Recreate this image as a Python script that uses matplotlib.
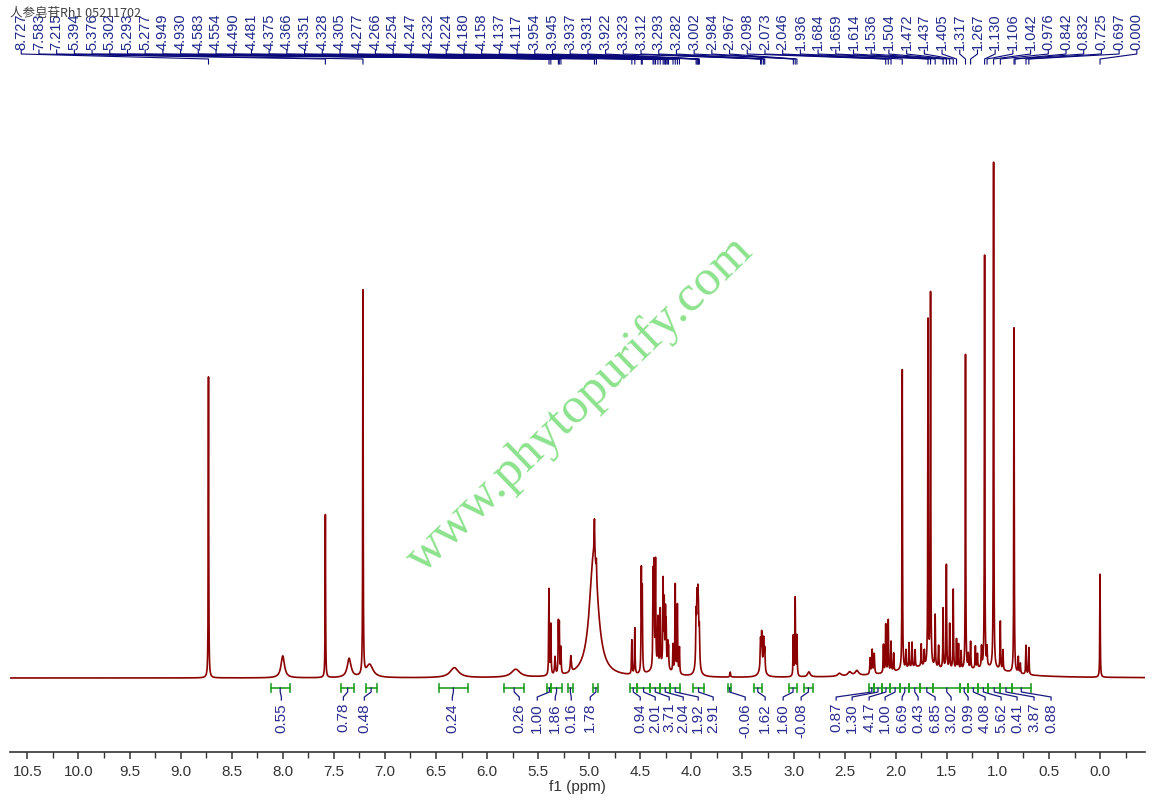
import numpy as np
import matplotlib
matplotlib.use('Agg')
import matplotlib.pyplot as plt

plt.rcParams['font.family'] = ['Liberation Sans', 'DejaVu Sans']

# sample name shown top-left
sample_title = "人参皂苷Rh1 05211702"

# peak list (ppm), height (arbitrary units ~ pixels), half width (ppm)
peak_ppm = [8.727, 7.583, 7.215, 8.00, 7.35, 7.15, 6.32, 5.72,
            5.394, 5.376, 5.335, 5.302, 5.293, 5.277, 5.18,
            4.955, 4.949, 4.930,
            4.583, 4.554, 4.490, 4.481,
            4.375, 4.366, 4.351, 4.328, 4.305, 4.277, 4.266, 4.254, 4.247,
            4.232, 4.224, 4.180, 4.158, 4.137, 4.117, 4.30,
            3.954, 3.945, 3.937, 3.931, 3.922, 3.94, 3.62,
            3.323, 3.312, 3.293, 3.282, 3.31,
            3.002, 2.984, 2.967, 2.85, 2.55, 2.45, 2.38,
            2.25, 2.23, 2.21, 2.12, 2.098, 2.073, 2.046, 2.02,
            1.936, 1.90, 1.87, 1.84, 1.81, 1.75, 1.72,
            1.684, 1.659, 1.614, 1.58,
            1.536, 1.504, 1.472, 1.437, 1.405, 1.385, 1.36,
            1.317, 1.29, 1.267, 1.22, 1.20,
            1.16, 1.130, 1.106, 1.042, 0.976, 0.95,
            0.842, 0.80, 0.78, 0.725, 0.697, 0.000,
            1.75, 1.10]
peak_height = [301, 163, 384, 22, 19, 13, 10, 8,
               86, 50, 18, 50, 48, 26, 16,
               125, 35, 18,
               34, 46, 100, 80,
               92, 98, 105, 48, 56, 84, 62, 52, 40,
               24, 21, 27, 88, 68, 26, 10,
               48, 55, 52, 42, 35, 12, 5,
               28, 32, 30, 22, 10,
               40, 78, 40, 5, 3, 4, 5,
               16, 24, 20, 28, 48, 52, 30, 18,
               300, 18, 25, 25, 17, 22, 15,
               345, 372, 52, 22,
               60, 104, 45, 80, 30, 25, 18,
               315, 14, 27, 22, 14,
               20, 412, 18, 506, 48, 20,
               345, 16, 10, 29, 27, 103,
               10, 8]
peak_width = [0.0025, 0.0025, 0.0025, 0.02, 0.022, 0.04, 0.05, 0.05,
              0.003, 0.003, 0.005, 0.003, 0.003, 0.003, 0.006,
              0.05, 0.003, 0.003,
              0.003, 0.003, 0.003, 0.003,
              0.003, 0.003, 0.003, 0.003, 0.003, 0.003, 0.003, 0.003, 0.003,
              0.003, 0.003, 0.003, 0.003, 0.003, 0.003, 0.1,
              0.004, 0.004, 0.004, 0.004, 0.004, 0.02, 0.004,
              0.004, 0.004, 0.004, 0.004, 0.025,
              0.003, 0.003, 0.003, 0.015, 0.02, 0.02, 0.02,
              0.004, 0.004, 0.004, 0.003, 0.003, 0.003, 0.003, 0.003,
              0.0025, 0.003, 0.003, 0.003, 0.003, 0.003, 0.003,
              0.0025, 0.0025, 0.003, 0.003,
              0.003, 0.003, 0.003, 0.003, 0.003, 0.003, 0.003,
              0.0025, 0.003, 0.003, 0.003, 0.003,
              0.003, 0.0025, 0.003, 0.0025, 0.003, 0.003,
              0.0025, 0.003, 0.003, 0.003, 0.003, 0.0025,
              0.3, 0.25]

# peak labels along the top
peak_labels = [8.727, 7.583, 7.215, 5.394, 5.376, 5.302, 5.293, 5.277, 4.949, 4.930,
               4.583, 4.554, 4.490, 4.481, 4.375, 4.366, 4.351, 4.328, 4.305, 4.277,
               4.266, 4.254, 4.247, 4.232, 4.224, 4.180, 4.158, 4.137, 4.117, 3.954,
               3.945, 3.937, 3.931, 3.922, 3.323, 3.312, 3.293, 3.282, 3.002, 2.984,
               2.967, 2.098, 2.073, 2.046, 1.936, 1.684, 1.659, 1.614, 1.536, 1.504,
               1.472, 1.437, 1.405, 1.317, 1.267, 1.130, 1.106, 1.042, 0.976, 0.842,
               0.832, 0.725, 0.697, 0.000]

# integration regions (ppm from, ppm to) and values
int_from = [8.12, 7.43, 7.19, 6.47, 5.83, 5.41, 5.37, 5.21, 4.96, 4.605, 4.533, 4.403, 4.305,
            4.207, 3.98, 3.64, 3.39, 3.04, 2.90, 2.257, 2.211, 2.136, 2.055, 1.957, 1.866,
            1.761, 1.631, 1.370, 1.289, 1.191, 1.093, 0.978, 0.864]
int_to = [7.93, 7.30, 7.08, 6.19, 5.64, 5.37, 5.27, 5.16, 4.91, 4.533, 4.403, 4.305, 4.207,
          4.11, 3.88, 3.61, 3.31, 2.97, 2.81, 2.211, 2.136, 2.055, 1.957, 1.866, 1.761,
          1.631, 1.370, 1.289, 1.191, 1.093, 0.978, 0.864, 0.678]
int_values = ["0.55", "0.78", "0.48", "0.24", "0.26", "1.00", "1.86", "0.16", "1.78", "0.94",
              "2.01", "3.71", "2.04", "1.92", "2.91", "-0.06", "1.62", "1.60", "-0.08", "0.87",
              "1.30", "4.17", "1.00", "6.69", "0.43", "6.85", "3.02", "0.99", "4.08", "5.62",
              "0.41", "3.87", "0.88"]

# layout: where the integral numbers sit (pixel x in the original picture)
int_label_px = [281, 343, 364, 452, 519, 537, 555, 571, 590, 640, 655, 669, 683, 698, 713,
                745, 765, 783, 801, 836, 852, 869, 885, 902, 918, 935, 951, 968, 985, 1001,
                1017, 1034, 1051]

# spectrum from peak list
ppm = np.arange(-0.44, 10.67, 0.0005)
spec = np.zeros_like(ppm)
for c, h, w in zip(peak_ppm, peak_height, peak_width):
    spec += h / (1.0 + ((ppm - c) / w) ** 2)

fig = plt.figure(figsize=(11.55, 8), dpi=100)
ax = fig.add_axes([10 / 1155, 48 / 800, 1135 / 1155, 752 / 800])
ax.set_xlim(10.67, -0.44)
ax.set_ylim(-74, 678)

ax.plot(ppm, spec, color='#8B0000', lw=1.2)

# axis styling
for s in ['top', 'left', 'right']:
    ax.spines[s].set_visible(False)
ax.spines['bottom'].set_color('#333333')
ax.spines['bottom'].set_linewidth(1.2)
ax.set_yticks([])
ax.set_xticks(np.arange(0, 10.51, 0.5))
ax.set_xticks(np.arange(-0.25, 10.6, 0.25), minor=True)
ax.set_xticklabels(["%.1f" % v for v in np.arange(0, 10.51, 0.5)])
ax.tick_params(axis='x', which='major', length=5, width=1.1, color='#333333',
               labelsize=11, labelcolor='#333333', pad=4)
ax.tick_params(axis='x', which='minor', length=4, width=1.0, color='#333333')
ax.set_xlabel('f1 (ppm)', fontsize=11, color='#333333', labelpad=1)

# top peak labels with connectors
label_x = np.linspace(10.56, -0.36, len(peak_labels))
for lx, p in zip(label_x, peak_labels):
    ax.text(lx, 628, "%.3f" % p, rotation=90, ha='center', va='bottom',
            fontsize=10.5, color='#1f2a8a', clip_on=False)
    ax.plot([lx, lx, p, p], [628, 624, 619, 614], color='#0a0a7a', lw=0.8, clip_on=False)

# integration brackets
for a, b, v, lp in zip(int_from, int_to, int_values, int_label_px):
    ax.plot([a, b], [-10, -10], color='#22a022', lw=1.2)
    ax.plot([a, a], [-6, -14], color='#22a022', lw=1.2)
    ax.plot([b, b], [-6, -14], color='#22a022', lw=1.2)
    mid = (a + b) / 2
    lx = (1100 - lp) / 102.2
    ax.plot([mid, mid, lx, lx], [-10, -14, -19, -22], color='#1a1a80', lw=0.9)
    ax.text(lx, -25, v, rotation=90, ha='center', va='top', fontsize=11, color='#2a2a90')

# watermark
ax.text(5.09, 273, "www.phytopurify.com", rotation=44, rotation_mode='anchor',
        ha='center', va='center', fontsize=37, color='#78dd78', alpha=0.85,
        family=['Liberation Serif', 'DejaVu Serif'])

fig.text(10 / 1155, 1 - 13 / 800, sample_title, ha='left', va='center', fontsize=9,
         color='#404040', family=['Noto Sans CJK SC', 'DejaVu Sans'])

fig.savefig('out.png', dpi=100)
